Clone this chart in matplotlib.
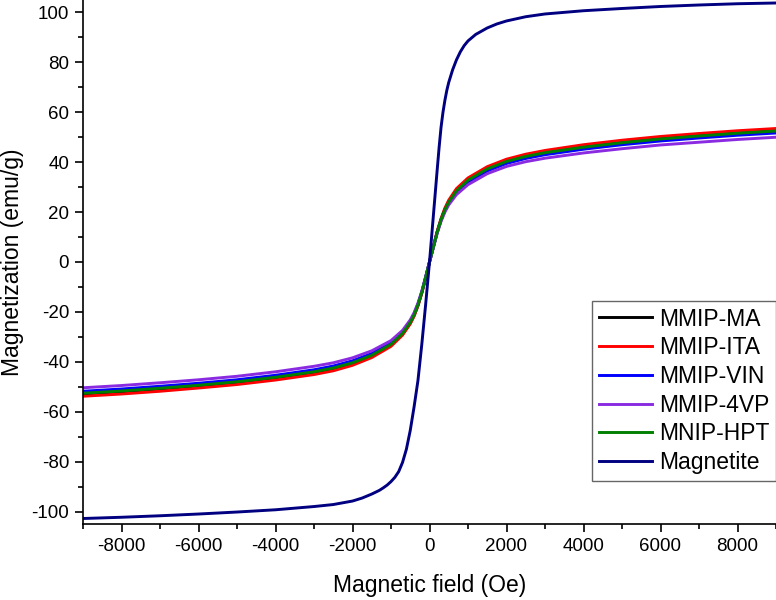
import matplotlib
matplotlib.use("Agg")
import matplotlib.pyplot as plt
from matplotlib.ticker import MultipleLocator

plt.rcParams['font.family'] = ['Liberation Sans', 'DejaVu Sans']
plt.rcParams['axes.unicode_minus'] = False

field = [-9000, -8000, -7000, -6000, -5000, -4000, -3000, -2500, -2000, -1500,
         -1000, -700, -500, -400, -300, -200, -100, 0, 100, 200, 300, 400, 500,
         700, 1000, 1500, 2000, 2500, 3000, 4000, 5000, 6000, 7000, 8000, 9000]

mmip_ma = [-52.9, -52.0, -50.9, -49.7, -48.3, -46.5, -44.3, -42.8, -40.7, -37.7,
           -33.3, -28.9, -24.5, -21.4, -17.4, -12.3, -6.3, 0.0, 6.1, 12.1, 17.1,
           21.2, 24.3, 28.8, 33.1, 37.6, 40.6, 42.6, 44.1, 46.3, 48.1, 49.6, 50.8,
           51.9, 52.8]
mmip_ita = [-53.8, -52.9, -51.8, -50.5, -49.1, -47.3, -45.1, -43.6, -41.4, -38.3,
            -33.8, -29.3, -24.8, -21.7, -17.6, -12.5, -6.4, 0.0, 6.2, 12.3, 17.4,
            21.6, 24.8, 29.4, 33.7, 38.2, 41.2, 43.2, 44.7, 47.0, 48.8, 50.3, 51.5,
           52.6, 53.5]
mmip_vin = [-51.8, -50.9, -49.8, -48.6, -47.2, -45.4, -43.2, -41.7, -39.6, -36.7,
            -32.4, -28.1, -23.8, -20.8, -16.9, -12.0, -6.1, 0.0, 5.9, 11.8, 16.7,
            20.6, 23.6, 27.9, 32.0, 36.5, 39.5, 41.5, 43.0, 45.2, 47.0, 48.5, 49.7,
            50.8, 51.7]
mmip_4vp = [-50.4, -49.5, -48.4, -47.2, -45.8, -44.0, -41.8, -40.4, -38.4, -35.6,
            -31.5, -27.4, -23.2, -20.3, -16.5, -11.7, -5.9, 0.0, 5.7, 11.5, 16.3,
            20.0, 22.9, 27.0, 31.0, 35.4, 38.3, 40.2, 41.6, 43.7, 45.4, 46.9, 48.0,
            49.1, 50.0]
mnip_hpt = [-52.6, -51.7, -50.6, -49.4, -48.0, -46.2, -44.0, -42.5, -40.4, -37.4,
            -33.0, -28.6, -24.2, -21.2, -17.2, -12.2, -6.2, 0.0, 6.0, 12.0, 17.0,
            21.0, 24.0, 28.5, 32.8, 37.3, 40.3, 42.3, 43.8, 46.0, 47.8, 49.3, 50.5,
            51.6, 52.5]

field_mag = [-9000, -8000, -7000, -6000, -5000, -4000, -3000, -2500, -2000, -1750,
             -1500, -1300, -1200, -1100, -1000, -900, -800, -700, -600, -500, -400,
             -300, -200, -100, 0, 100, 200, 250, 300, 350, 400, 450, 500, 600, 700,
             800, 900, 1000, 1200, 1500, 1750, 2000, 2500, 3000, 4000, 5000, 6000,
             7000, 8000, 9000]
magnetite = [-102.8, -102.3, -101.7, -101.0, -100.2, -99.3, -98.0, -97.2, -95.8,
             -94.6, -93.0, -91.5, -90.5, -89.4, -88.0, -86.3, -84.0, -80.3, -75.0,
             -67.5, -58.0, -47.5, -33.0, -17.0, 0.0, 18.5, 37.0, 46.0, 54.0, 60.0,
             64.8, 68.8, 72.0, 77.0, 81.0, 84.2, 86.7, 88.6, 91.2, 93.8, 95.4, 96.6,
             98.3, 99.4, 100.7, 101.6, 102.4, 103.0, 103.5, 103.8]

labels = ['MMIP-MA', 'MMIP-ITA', 'MMIP-VIN', 'MMIP-4VP', 'MNIP-HPT', 'Magnetite']
colors = ['#000000', '#ff0000', '#0000ff', '#8a2be2', '#007f00', '#000080']

fig = plt.figure(figsize=(7.76, 6.0), dpi=100)
ax = fig.add_axes([83/776, 76/600, 693/776, 524/600])

series = [mmip_ma, mmip_ita, mmip_vin, mmip_4vp, mnip_hpt]
for vals, lab, col in zip(series, labels[:5], colors[:5]):
    ax.plot(field, vals, color=col, lw=2.1, label=lab, solid_joinstyle='round')
ax.plot(field_mag, magnetite, color=colors[5], lw=2.1, label=labels[5],
        solid_joinstyle='round')

ax.set_xlim(-9000, 9000)
ax.set_ylim(-105, 105)
ax.xaxis.set_minor_locator(MultipleLocator(1000))
ax.yaxis.set_minor_locator(MultipleLocator(10))
ax.set_xticks([-8000, -6000, -4000, -2000, 0, 2000, 4000, 6000, 8000])
ax.set_yticks([-100, -80, -60, -40, -20, 0, 20, 40, 60, 80, 100])

for s in ['top', 'right']:
    ax.spines[s].set_visible(False)
for s in ['left', 'bottom']:
    ax.spines[s].set_linewidth(1.2)

ax.tick_params(which='major', direction='out', length=6, width=1.2, labelsize=13.5, pad=4)
ax.tick_params(which='minor', direction='out', length=3.5, width=1.2)

ax.set_xlabel('Magnetic field (Oe)', fontsize=16.5, labelpad=14)
ax.set_ylabel('Magnetization (emu/g)', fontsize=16.5, labelpad=5)

leg = ax.legend(loc='lower right', bbox_to_anchor=(1.0, 0.082), borderaxespad=0,
                fontsize=16.5, frameon=True, fancybox=False, edgecolor='#404040',
                handlelength=2.3, handletextpad=0.3, labelspacing=0.25,
                borderpad=0.3)
leg.get_frame().set_linewidth(1.0)

fig.savefig('out.png', dpi=100)
